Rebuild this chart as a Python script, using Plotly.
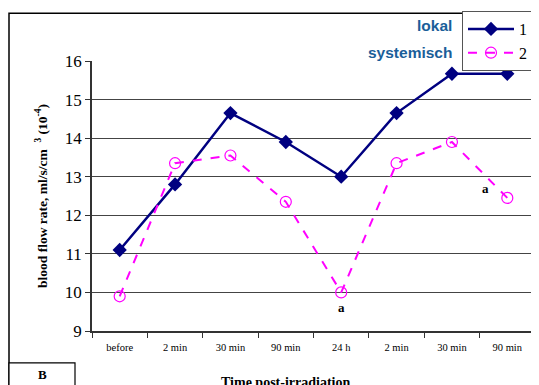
import plotly.graph_objects as go

categories = ["before", "2 min", "30 min", "90 min", "24 h", "2 min", "30 min", "90 min"]
series1 = [11.1, 12.8, 14.65, 13.9, 13.0, 14.65, 15.67, 15.67]
series2 = [9.9, 13.35, 13.55, 12.35, 10.0, 13.35, 13.9, 12.45]
series_names = ["1", "2"]
y_ticks = [9, 10, 11, 12, 13, 14, 15, 16]

xs = list(range(len(categories)))
OFF = 8  # page body margin
W, H = 539 - OFF, 385 - OFF
L, R, T, B = 92, 535, 60, 331  # plot area in screen pixels
pw, ph = R - L, B - T

def px(x):
    return (x - L) / pw

def py(y):
    return (B - y) / ph

fig = go.Figure()
fig.add_trace(go.Scatter(
    x=xs, y=series1, name=series_names[0], mode="lines+markers",
    line=dict(color="#000080", width=2.5),
    marker=dict(symbol="diamond", size=11, color="#000080"),
))
fig.add_trace(go.Scatter(
    x=xs, y=series2, name=series_names[1], mode="lines+markers",
    line=dict(color="#ff00ff", width=2, dash="dash"),
    marker=dict(symbol="circle-open", size=11, color="#ff00ff", line=dict(width=1.2)),
))

serif = "Liberation Serif, Times New Roman, serif"

fig.update_layout(
    width=W, height=H,
    margin=dict(l=L - OFF, r=(W + OFF) - R, t=T - OFF, b=(H + OFF) - B),
    paper_bgcolor="white", plot_bgcolor="white",
    showlegend=True,
    legend=dict(
        x=px(533), y=py(11), xanchor="right", yanchor="top",
        bordercolor="#555555", borderwidth=1, bgcolor="white",
        font=dict(family=serif, size=16, color="black"),
        tracegroupgap=0, itemwidth=46,
    ),
    font=dict(family=serif, color="black"),
)

fig.update_xaxes(
    range=[-0.5, len(categories) - 0.5],
    tickmode="array", tickvals=xs, ticktext=categories,
    ticks="", tickfont=dict(family=serif, size=10.5, color="black"),
    ticklabelstandoff=6,
    showgrid=False, zeroline=False,
    showline=True, linecolor="#333333", linewidth=1.5,
    mirror=False,
    minor=dict(tickmode="array", tickvals=[i - 0.5 for i in range(len(categories) + 1)],
               ticks="outside", ticklen=5, tickcolor="#333333", showgrid=False),
)
fig.update_yaxes(
    range=[9, 16], tickvals=y_ticks,
    ticks="outside", ticklen=5, tickcolor="#333333",
    tickfont=dict(family=serif, size=17, color="black"),
    showgrid=True, gridcolor="#444444", gridwidth=1,
    zeroline=False, showline=True, linecolor="#333333", linewidth=1.5,
    title=dict(text="<b>blood flow rate, ml/s/cm  <sup>3</sup> (10<sup>-4</sup>)</b>",
               font=dict(family=serif, size=13.5, color="black"), standoff=14),
)

shapes = [
    # outer frame
    dict(type="rect", xref="paper", yref="paper",
         x0=px(9), x1=px(538), y0=py(395), y1=py(12),
         line=dict(color="black", width=1.5), fillcolor="rgba(0,0,0,0)", layer="below"),
    # right border of plot area
    dict(type="line", xref="paper", yref="paper", x0=1, x1=1, y0=0, y1=1,
         line=dict(color="#777777", width=1.5)),
    # B box
    dict(type="rect", xref="paper", yref="paper",
         x0=px(9), x1=px(75), y0=py(395), y1=py(363),
         line=dict(color="black", width=1.2), fillcolor="white"),
]
fig.update_layout(shapes=shapes)

annotations = [
    dict(text="<b>lokal</b>", xref="paper", yref="paper", x=px(454), y=py(24),
         xanchor="right", yanchor="middle", showarrow=False,
         font=dict(family="Liberation Sans, Arial, sans-serif", size=15.5, color="#1a5e99")),
    dict(text="<b>systemisch</b>", xref="paper", yref="paper", x=px(454), y=py(51),
         xanchor="right", yanchor="middle", showarrow=False,
         font=dict(family="Liberation Sans, Arial, sans-serif", size=15.5, color="#1a5e99")),
    dict(text="<b>B</b>", xref="paper", yref="paper", x=px(42), y=py(375),
         xanchor="center", yanchor="middle", showarrow=False,
         font=dict(family=serif, size=13, color="black")),
    dict(text="<b>Time post-irradiation</b>", xref="paper", yref="paper", x=px(285), y=py(383),
         xanchor="center", yanchor="middle", showarrow=False,
         font=dict(family=serif, size=14, color="black")),
    dict(text="<b>a</b>", xref="x", yref="y", x=4, y=9.6,
         showarrow=False, font=dict(family=serif, size=13, color="black")),
    dict(text="<b>a</b>", xref="x", yref="y", x=6.6, y=12.7,
         showarrow=False, font=dict(family=serif, size=13, color="black")),
]
fig.update_layout(annotations=annotations)

fig.write_html("out.html")
